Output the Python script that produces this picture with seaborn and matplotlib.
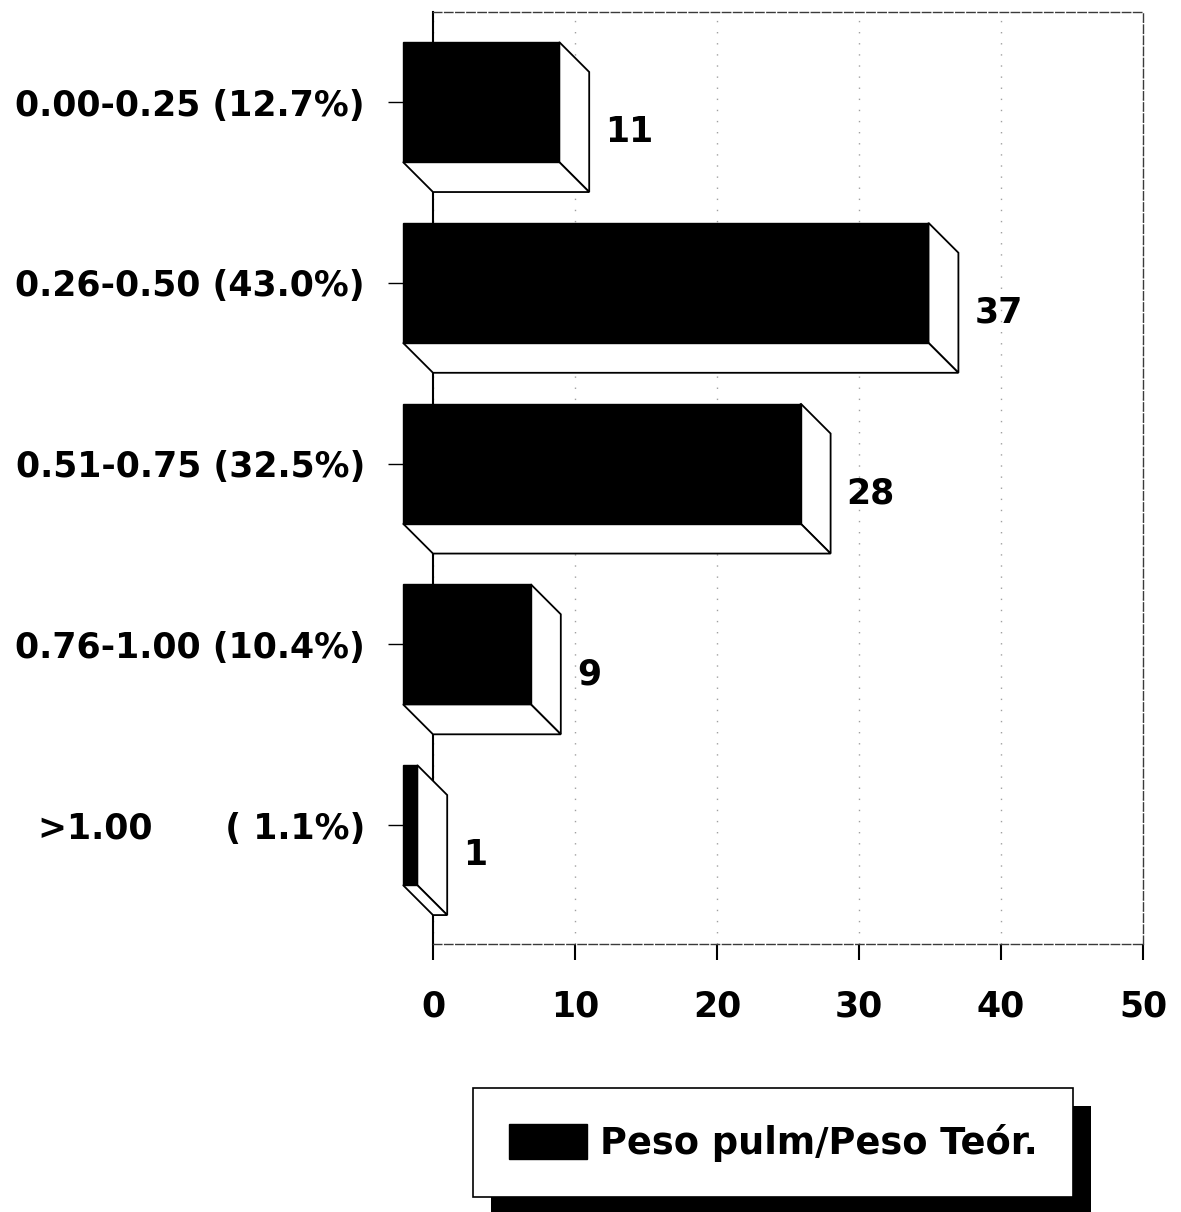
import numpy as np
import pandas as pd
import matplotlib
matplotlib.use('Agg')
import matplotlib.pyplot as plt
import seaborn as sns
from matplotlib.patches import Rectangle, Patch

# ---- data ----
categories = ["0.00-0.25 (12.7%)", "0.26-0.50 (43.0%)", "0.51-0.75 (32.5%)",
              "0.76-1.00 (10.4%)", ">1.00      ( 1.1%)"]
counts = [11, 37, 28, 9, 1]
x_ticks = [0, 10, 20, 30, 40, 50]
legend_label = "Peso pulm/Peso Teór."

sns.set_theme(style='white')
plt.rcParams['font.family'] = ['DejaVu Sans']
plt.rcParams['text.color'] = 'black'
plt.rcParams['axes.labelcolor'] = 'black'
plt.rcParams['xtick.color'] = 'black'
plt.rcParams['ytick.color'] = 'black'

W, H = 1181, 1212
fig = plt.figure(figsize=(W / 100, H / 100), dpi=100)
ax = fig.add_axes([433 / W, 1 - 944 / H, (1143 - 433) / W, (944 - 12) / H])

df = pd.DataFrame({'rango': categories, 'n': counts})
BAR_W = 0.664
DX = 30 / 14.2      # 3D depth in x (data units)
DY = 30 / 180.75    # 3D depth in y (data units)
FS = 25

sns.barplot(data=df, x='n', y='rango', orient='h', color='black', width=BAR_W,
            saturation=1, ax=ax, zorder=4)

# front faces: shift by the depth offset (up-left)
for p in ax.patches:
    p.set_x(p.get_x() - DX)
    p.set_clip_on(False)
    p.set_edgecolor('black')

h = BAR_W / 2
for i, v in enumerate(counts):
    side = [(v - DX, i - h), (v, i - h + DY), (v, i + h + DY), (v - DX, i + h)]
    bottom = [(-DX, i + h), (0, i + h + DY), (v, i + h + DY), (v - DX, i + h)]
    for poly in (side, bottom):
        xs, ys = zip(*poly)
        ax.fill(xs, ys, facecolor='white', edgecolor='black', lw=1.3,
                zorder=3, clip_on=False)
    ax.annotate(str(v), xy=(v, i + DY), xytext=(16, 0), textcoords='offset pixels',
                va='center', ha='left', fontsize=FS, fontweight='bold', color='black')

ax.set_xlim(0, 50)
ax.set_ylim(4.658, -0.498)
ax.set_xticks(x_ticks)
ax.set_xticklabels([str(t) for t in x_ticks])
ax.set_xlabel('')
ax.set_ylabel('')

ax.tick_params(axis='y', which='major', left=True, length=32.4, width=1, pad=16.5,
               labelsize=FS, color='black', labelcolor='black', direction='out')
ax.tick_params(axis='x', which='major', bottom=True, length=11.5, width=1.5, pad=21,
               labelsize=FS, color='black', labelcolor='black', direction='out')
for t in ax.get_yticklabels() + ax.get_xticklabels():
    t.set_fontweight('bold')

ax.xaxis.grid(True, color='#a0a0a0', linestyle=(0, (1, 7)), lw=1)
ax.yaxis.grid(False)
ax.set_axisbelow(True)

for name, sp in ax.spines.items():
    sp.set_visible(True)
    if name == 'left':
        sp.set_color('black')
        sp.set_linewidth(1.5)
    else:
        sp.set_color('#3a3a3a')
        sp.set_linewidth(1)
        sp.set_linestyle((0, (6, 2)))

LFS = 26.5
leg = ax.legend(handles=[Patch(facecolor='black', edgecolor='black')], labels=[legend_label],
                loc='upper left', bbox_to_anchor=(473 / W, 1 - 1088 / H),
                bbox_transform=fig.transFigure, frameon=True, fancybox=False,
                framealpha=1, edgecolor='black', labelcolor='black',
                prop={'size': LFS, 'weight': 'bold'},
                handlelength=2.12, handleheight=1.09, handletextpad=0.35,
                borderpad=0.97, borderaxespad=0)
leg.get_frame().set_linewidth(1.2)

fig.canvas.draw()
bb = leg.get_window_extent()
shadow = Rectangle((bb.x0 + 18, bb.y0 - 18), bb.width, bb.height, transform=None,
                   facecolor='black', edgecolor='none', zorder=-1)
fig.add_artist(shadow)

fig.savefig('out.png', dpi=100)
